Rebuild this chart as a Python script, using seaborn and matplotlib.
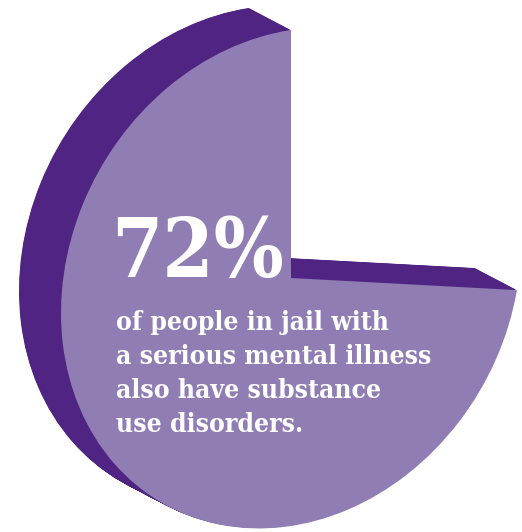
import numpy as np
import matplotlib
matplotlib.use("Agg")
import matplotlib.pyplot as plt
import matplotlib.patches as mpatches
from matplotlib.transforms import Affine2D
import seaborn as sns

# ---- data ----
categories = ["with substance use disorders", "without"]
shares = [72, 28]
headline = "72%"
caption_lines = ["of people in jail with",
                 "a serious mental illness",
                 "also have substance",
                 "use disorders."]

face_color = "#8f7db4"
side_color = "#502482"

sns.set_theme(style="white")
plt.rcParams['font.family'] = ['DejaVu Serif', 'DejaVu Sans']

W, H = 522, 532
fig = plt.figure(figsize=(W / 100, H / 100), dpi=100)
ax = fig.add_axes([0, 0, 1, 1])
ax.set_xlim(0, W)
ax.set_ylim(0, H)
ax.axis("off")

# pie wedge for the first share, starting at 12 o'clock going counter-clockwise
frac = shares[0] / sum(shares)
theta1 = 90.0
theta2 = 90.0 + 360.0 * frac

# perspective (affine) mapping of the unit pie into the canvas
persp = Affine2D(np.array([[230.0, 0.0, 291.0],
                           [35.0, 248.0, 254.0],
                           [0.0, 0.0, 1.0]]))
depth = np.array([-42.0, 22.0])

# extrusion: stack of shifted copies (behind the front face)
for s in np.linspace(1, 0.03, 90):
    w = mpatches.Wedge((0, 0), 1, theta1, theta2, facecolor=side_color,
                       edgecolor="none")
    w.set_transform(persp + Affine2D().translate(*(depth * s)) + ax.transData)
    ax.add_patch(w)

front = mpatches.Wedge((0, 0), 1, theta1, theta2, facecolor=face_color,
                       edgecolor="none")
front.set_transform(persp + ax.transData)
ax.add_patch(front)

ax.text(111, H - 277, headline, color="white", fontsize=59, fontweight="bold",
        fontstretch="condensed", ha="left", va="baseline")
for i, line in enumerate(caption_lines):
    ax.text(116, H - 330 - 34 * i, line, color="white", fontsize=19,
            fontweight="bold", fontstretch="condensed", ha="left", va="baseline")

fig.savefig("out.png", dpi=100)
